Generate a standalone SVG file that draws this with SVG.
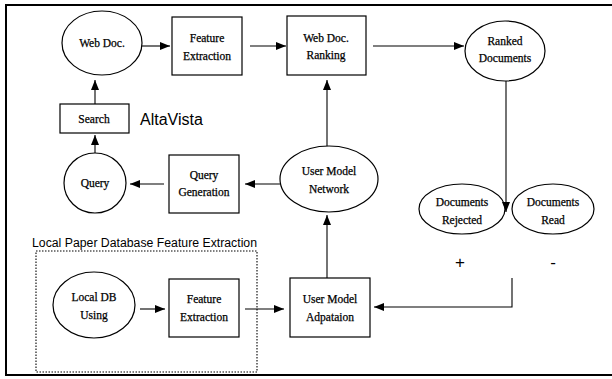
<svg xmlns="http://www.w3.org/2000/svg" width="612" height="379" viewBox="0 0 612 379">
<defs>
<marker id="ah" markerWidth="10" markerHeight="8" refX="10" refY="4" orient="auto" markerUnits="userSpaceOnUse">
<path d="M0,0 L10,4 L0,8 Z" fill="#000"/>
</marker>
<style>
.n{fill:#fff;stroke:#000;stroke-width:1.2}
.t{font-family:"Liberation Serif","Times New Roman",serif;font-size:11.5px;text-anchor:middle;fill:#000;stroke:#000;stroke-width:0.25}
.c{fill:none;stroke:#000;stroke-width:1.1}
.a{marker-end:url(#ah)}
.s{font-family:"Liberation Sans",Arial,sans-serif;fill:#000}
</style>
</defs>
<rect width="612" height="379" fill="#fff"/>
<path d="M612,5 H6 V375 H612" fill="none" stroke="#000" stroke-width="2"/>

<g id="web-doc"><ellipse class="n" cx="102" cy="43" rx="40" ry="32"/><text class="t" x="102" y="47">Web Doc.</text></g>
<g id="feature-extraction-1"><rect class="n" x="172" y="17" width="70" height="58"/><text class="t" x="207" y="42">Feature</text><text class="t" x="207" y="60">Extraction</text></g>
<g id="web-doc-ranking"><rect class="n" x="287" y="16" width="79" height="59"/><text class="t" x="326" y="42">Web Doc.</text><text class="t" x="326" y="59">Ranking</text></g>
<g id="ranked-documents"><ellipse class="n" cx="505" cy="51" rx="40" ry="30"/><text class="t" x="505" y="45">Ranked</text><text class="t" x="505" y="62">Documents</text></g>
<g id="search"><rect class="n" x="60" y="104" width="69" height="29"/><text class="t" x="94" y="123">Search</text></g>
<g id="altavista"><text class="s" x="140" y="125" font-size="16">AltaVista</text></g>
<g id="query"><ellipse class="n" cx="95" cy="183" rx="31" ry="30"/><text class="t" x="95" y="187">Query</text></g>
<g id="query-generation"><rect class="n" x="169" y="155" width="70" height="58"/><text class="t" x="204" y="179">Query</text><text class="t" x="204" y="196">Generation</text></g>
<g id="user-model-network"><ellipse class="n" cx="329" cy="179" rx="49" ry="33"/><text class="t" x="329" y="175">User Model</text><text class="t" x="329" y="193">Network</text></g>
<g id="documents-rejected"><ellipse class="n" cx="462" cy="209" rx="43" ry="25"/><text class="t" x="462" y="206">Documents</text><text class="t" x="462" y="224">Rejected</text></g>
<g id="documents-read"><ellipse class="n" cx="553" cy="209" rx="41" ry="25"/><text class="t" x="553" y="206">Documents</text><text class="t" x="553" y="224">Read</text></g>
<g id="plus-minus"><text class="s" x="460" y="268" font-size="17" text-anchor="middle">+</text><text class="s" x="553" y="268" font-size="17" text-anchor="middle">-</text></g>
<g id="local-db-group"><rect x="36" y="251" width="221" height="121" fill="none" stroke="#000" stroke-width="1.1" stroke-dasharray="1.5,1.5"/><text class="s" x="32" y="247" font-size="12" textLength="225" lengthAdjust="spacingAndGlyphs">Local Paper Database Feature Extraction</text></g>
<g id="local-db-using"><ellipse class="n" cx="94" cy="305" rx="41" ry="33"/><text class="t" x="94" y="301">Local DB</text><text class="t" x="94" y="319">Using</text></g>
<g id="feature-extraction-2"><rect class="n" x="169" y="279" width="70" height="58"/><text class="t" x="204" y="303">Feature</text><text class="t" x="204" y="321">Extraction</text></g>
<g id="user-model-adaptation"><rect class="n" x="290" y="278" width="80" height="59"/><text class="t" x="330" y="303">User Model</text><text class="t" x="330" y="321">Adpataion</text></g>

<g id="connectors">
<line class="c a" x1="142" y1="46" x2="170" y2="46"/>
<line class="c a" x1="250" y1="46" x2="286" y2="46"/>
<line class="c a" x1="373" y1="46" x2="464" y2="46"/>
<line class="c a" x1="95" y1="104" x2="95" y2="80"/>
<line class="c a" x1="95" y1="153" x2="95" y2="135"/>
<line class="c a" x1="164" y1="184" x2="130" y2="184"/>
<line class="c a" x1="280" y1="184" x2="245" y2="184"/>
<line class="c a" x1="327" y1="146" x2="327" y2="80"/>
<line class="c a" x1="327" y1="278" x2="327" y2="215"/>
<line class="c a" x1="506" y1="81" x2="506" y2="212"/>
<polyline class="c a" points="512,278 512,307 374,307"/>
<line class="c a" x1="140" y1="309" x2="165" y2="309"/>
<line class="c a" x1="245" y1="309" x2="284" y2="309"/>
</g>
</svg>
